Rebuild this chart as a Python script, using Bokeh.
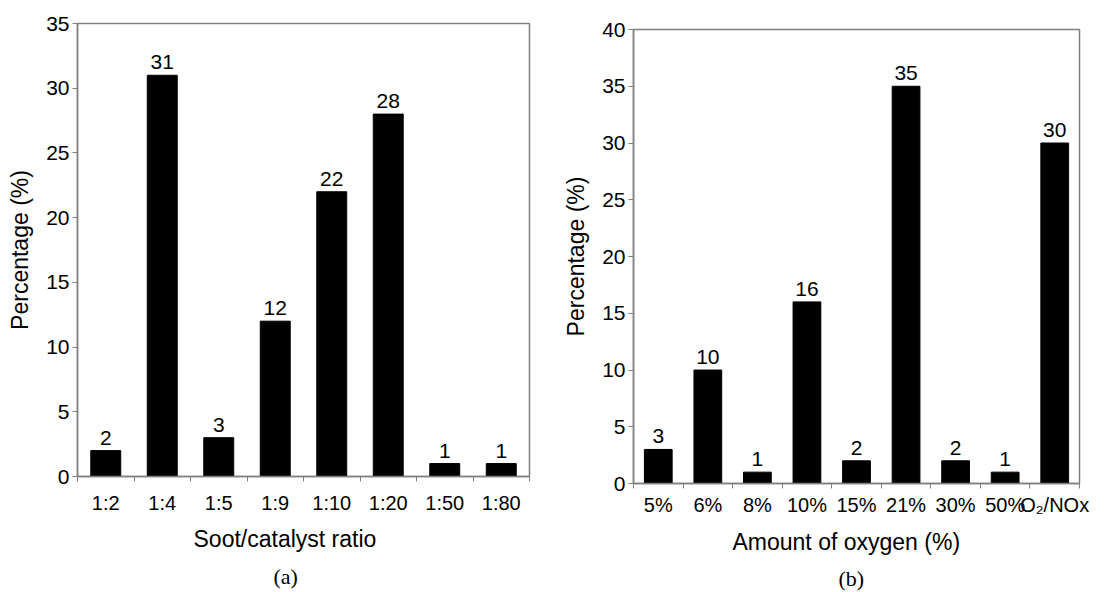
from bokeh.plotting import figure
from bokeh.layouts import row, column
from bokeh.models import Range1d, FixedTicker, Title, ColumnDataSource
from bokeh.core.properties import value
from bokeh.embed import file_html
from bokeh.resources import INLINE

# ---- data ----
categories_a = ["1:2", "1:4", "1:5", "1:9", "1:10", "1:20", "1:50", "1:80"]
values_a = [2, 31, 3, 12, 22, 28, 1, 1]
yticks_a = [0, 5, 10, 15, 20, 25, 30, 35]

categories_b = ["5%", "6%", "8%", "10%", "15%", "21%", "30%", "50%", "O\u2082/NOx"]
values_b = [3, 10, 1, 16, 2, 35, 2, 1, 30]
yticks_b = [0, 5, 10, 15, 20, 25, 30, 35, 40]

xlabel_a = "Soot/catalyst ratio"
xlabel_b = "Amount of oxygen (%)"
ylabel = "Percentage (%)"

FONT = "Liberation Sans"
GRAY = "#808080"


def panel(cats, vals, yticks, xlabel, caption, width, height, bl, br, bt, bb,
          bar_w, lab_standoff, xt_standoff, xt_offset, cap_standoff, cap_offset):
    n = len(cats)
    xs = [i + 0.5 for i in range(n)]
    src = ColumnDataSource(dict(x=xs, top=vals, label=[str(v) for v in vals]))
    p = figure(width=width, height=height,
               x_range=Range1d(0, n), y_range=Range1d(yticks[0], yticks[-1]),
               output_backend="svg", toolbar_location=None,
               min_border_left=bl, min_border_right=br,
               min_border_top=bt, min_border_bottom=bb)
    p.vbar(x="x", top="top", bottom=0, width=bar_w, source=src,
           fill_color="black", line_color="black")
    p.text(x="x", y="top", text="label", source=src,
           text_align="center", text_baseline="bottom", y_offset=-6,
           text_font=value(FONT), text_font_size="21px", text_color="black")

    p.grid.visible = False
    p.outline_line_color = GRAY
    p.outline_line_width = 1.5
    p.background_fill_color = "white"
    p.border_fill_color = "white"

    # x axis (boundary ticks as minor ticks, category names at centres)
    p.xaxis.ticker = FixedTicker(ticks=xs, minor_ticks=list(range(0, n + 1)))
    p.xaxis.major_label_overrides = {x: c for x, c in zip(xs, cats)}
    p.xaxis.major_tick_line_color = None
    p.xaxis.major_tick_out = 0
    p.xaxis.major_tick_in = 0
    p.xaxis.minor_tick_line_color = GRAY
    p.xaxis.minor_tick_out = 5
    p.xaxis.minor_tick_in = 0
    p.xaxis.major_label_standoff = lab_standoff
    p.xaxis.major_label_text_font_size = "20px"

    # y axis
    p.yaxis.ticker = FixedTicker(ticks=yticks)
    p.yaxis.major_tick_line_color = GRAY
    p.yaxis.major_tick_out = 5
    p.yaxis.major_tick_in = 0
    p.yaxis.minor_tick_line_color = None
    p.yaxis.major_label_standoff = 3
    p.yaxis.major_label_text_font_size = "21px"
    p.yaxis.axis_label = ylabel
    p.yaxis.axis_label_standoff = 10

    for ax in (p.xaxis, p.yaxis):
        ax.axis_line_color = GRAY
        ax.axis_line_width = 1.5
        ax.major_label_text_font = FONT
        ax.major_label_text_color = "black"
        ax.axis_label_text_font = FONT
        ax.axis_label_text_font_style = "normal"
        ax.axis_label_text_font_size = "23px"
        ax.axis_label_text_color = "black"

    # x-axis title and panel caption, slightly left of the frame centre as in the original
    p.add_layout(Title(text=xlabel, align="left", offset=xt_offset,
                       text_font=FONT, text_font_size="23px",
                       text_font_style="normal", text_color="black",
                       standoff=xt_standoff), "below")
    p.add_layout(Title(text=caption, align="left", offset=cap_offset,
                       text_font="Liberation Serif", text_font_size="22px",
                       text_font_style="normal", text_color="black",
                       standoff=cap_standoff), "below")
    return p


pa = panel(categories_a, values_a, yticks_a, xlabel_a, "(a)",
           560, 592, 77, 31, 23, 115, 0.53, 10, 14, 116, 7, 196)
pb = panel(categories_b, values_b, yticks_b, xlabel_b, "(b)",
           547, 592, 68, 28, 29, 109, 0.56, 5, 16, 99, 3, 205)

layout = row(column(pa), column(pb), spacing=0)
open("out.html", "w").write(file_html(layout, INLINE))
